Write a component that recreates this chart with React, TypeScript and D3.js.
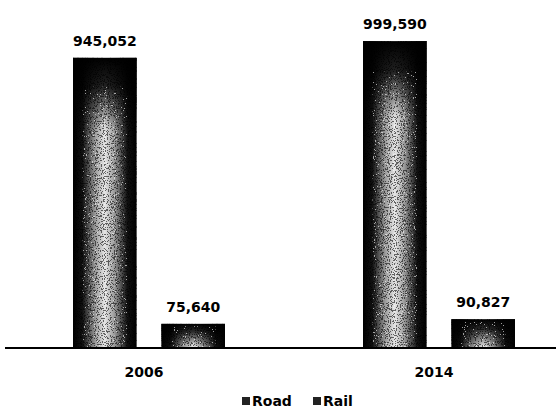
import React from 'react';
import * as d3 from 'd3';

const years = ['2006', '2014'];
const modes = ['Road', 'Rail'];
const road = [945052, 999590];
const rail = [75640, 90827];

const W = 556;
const H = 410;
const baseY = 347;

const App: React.FC = () => {
  const x0 = d3.scaleBand<string>().domain(years).range([-1, 579]);
  const x1 = d3.scaleBand<string>().domain(modes).range([74, 226]).paddingInner(0.28);
  const y = d3.scaleLinear().domain([0, 1000000]).range([baseY, 41]);

  const bars = years.flatMap((yr, i) => [
    { yr, mode: 'Road', value: road[i] },
    { yr, mode: 'Rail', value: rail[i] },
  ]);

  const fmt = d3.format(',');
  const font = '"DejaVu Sans", sans-serif';

  return (
    <svg width={W} height={H} style={{ position: 'absolute', left: 0, top: 0, background: '#fff' }}>
      <defs>
        <linearGradient id="hgrad" x1="0" x2="1" y1="0" y2="0">
          <stop offset="0" stopColor="#000" />
          <stop offset="0.15" stopColor="#111" />
          <stop offset="0.35" stopColor="#9a9a9a" />
          <stop offset="0.5" stopColor="#e6e6e6" />
          <stop offset="0.65" stopColor="#9a9a9a" />
          <stop offset="0.85" stopColor="#111" />
          <stop offset="1" stopColor="#000" />
        </linearGradient>
        <linearGradient id="vtop" x1="0" x2="0" y1="0" y2="1">
          <stop offset="0" stopColor="#000" stopOpacity="1" />
          <stop offset="0.1" stopColor="#000" stopOpacity="0.85" />
          <stop offset="0.25" stopColor="#000" stopOpacity="0" />
          <stop offset="1" stopColor="#000" stopOpacity="0" />
        </linearGradient>
        <linearGradient id="vrail" x1="0" x2="0" y1="0" y2="1">
          <stop offset="0" stopColor="#000" stopOpacity="1" />
          <stop offset="0.35" stopColor="#000" stopOpacity="0.8" />
          <stop offset="1" stopColor="#000" stopOpacity="0" />
        </linearGradient>
        <filter id="speckle" x="0" y="0" width="100%" height="100%">
          <feTurbulence type="fractalNoise" baseFrequency="0.85" numOctaves="2" seed="3" result="n" />
          <feColorMatrix in="n" type="matrix"
            values="0 0 0 0 0  0 0 0 0 0  0 0 0 0 0  0 0 0 -2.6 1.6" result="a" />
          <feComponentTransfer in="a" result="t">
            <feFuncA type="discrete" tableValues="0 0 1 1" />
          </feComponentTransfer>
          <feComposite in="t" in2="SourceGraphic" operator="in" />
        </filter>
        <filter id="speckleW" x="0" y="0" width="100%" height="100%">
          <feTurbulence type="fractalNoise" baseFrequency="0.9" numOctaves="2" seed="8" result="n" />
          <feColorMatrix in="n" type="matrix"
            values="0 0 0 0 1  0 0 0 0 1  0 0 0 0 1  0 0 0 2.6 -1.1" result="a" />
          <feComponentTransfer in="a" result="t">
            <feFuncA type="discrete" tableValues="0 0 0 1" />
          </feComponentTransfer>
          <feComposite in="t" in2="SourceGraphic" operator="in" />
        </filter>
      </defs>

      {bars.map((b) => {
        const bx = (x0(b.yr) ?? 0) + (x1(b.mode) ?? 0);
        const bw = x1.bandwidth();
        const by = y(b.value);
        const bh = baseY - by;
        return (
          <g key={b.yr + b.mode}>
            <rect x={bx} y={by} width={bw} height={bh} fill="url(#hgrad)" />
            <rect x={bx} y={by} width={bw} height={bh}
              fill={b.mode === 'Road' ? 'url(#vtop)' : 'url(#vrail)'} />
            <rect x={bx} y={by} width={bw} height={bh} fill="#000" filter="url(#speckle)" opacity={0.55} />
            <rect x={bx + bw * 0.15} y={by + bh * 0.1} width={bw * 0.7} height={bh * 0.9}
              fill="#fff" filter="url(#speckleW)" opacity={0.6} />
            <text x={bx + bw / 2} y={by - 12} textAnchor="middle"
              fontFamily={font} fontWeight="bold" fontSize={14} fill="#000">
              {fmt(b.value)}
            </text>
          </g>
        );
      })}

      <line x1={5} x2={556} y1={baseY + 1} y2={baseY + 1} stroke="#000" strokeWidth={2.2} />

      {years.map((yr) => (
        <text key={yr} x={(x0(yr) ?? 0) + x0.bandwidth() / 2} y={377} textAnchor="middle"
          fontFamily={font} fontWeight="bold" fontSize={14} fill="#000">
          {yr}
        </text>
      ))}

      <g fontFamily={font} fontWeight="bold" fontSize={14} fill="#000">
        {modes.map((m, i) => {
          const lx = 242 + i * 71;
          return (
            <g key={m}>
              <rect x={lx} y={397} width={8} height={8} fill="#222" />
              <text x={lx + 10} y={406}>{m}</text>
            </g>
          );
        })}
      </g>
    </svg>
  );
};

export default App;
